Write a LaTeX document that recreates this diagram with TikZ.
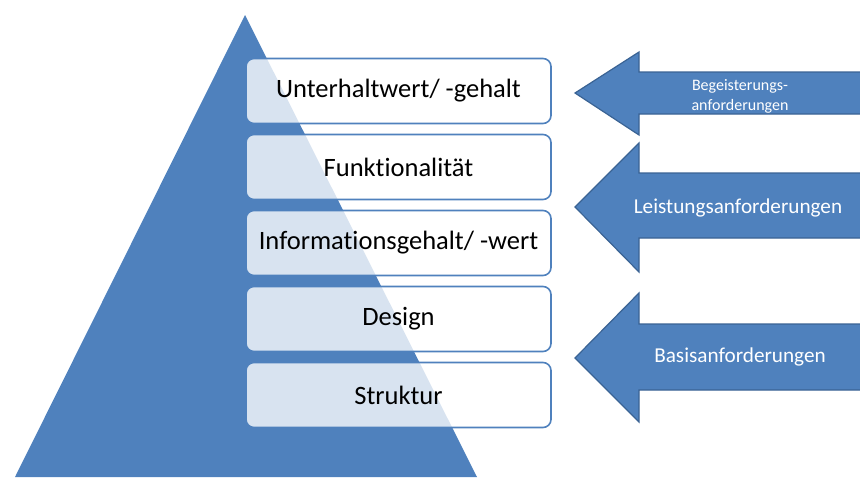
\documentclass[tikz,border=0pt]{standalone}
\usepackage{fontspec}
\setmainfont{Carlito}[Ligatures={NoCommon}]
\definecolor{pyrblue}{HTML}{4F81BD}
\definecolor{arrowedge}{HTML}{3A6394}
\begin{document}
\begin{tikzpicture}[x=1pt,y=-1pt,
  levelbox/.style={draw=pyrblue, line width=1.6pt, rounded corners=8pt,
    fill=white, fill opacity=0.78, text opacity=1,
    minimum width=305pt, minimum height=65pt, inner sep=0pt,
    font=\fontsize{26.5}{30}\selectfont, text=black},
  blockarrow/.style={fill=pyrblue, draw=arrowedge, line width=1.2pt, line join=miter},
  arrowtext/.style={text=white, align=center, inner sep=0pt}
]
\useasboundingbox (0,0) rectangle (860,477);
% pyramid
\fill[pyrblue] (245,15) -- (477,477) -- (15,477) -- cycle;
% levels
\node[levelbox] (l1) at (398.5,91) {Unterhaltwert/ -gehalt};
\node[levelbox] (l2) at (398.5,167) {Funktionalität};
\node[levelbox] (l3) at (398.5,243) {Informationsgehalt/ -wert};
\node[levelbox] (l4) at (398.5,319) {Design};
\node[levelbox] (l5) at (398.5,395) {Struktur};
% arrows
\draw[blockarrow] (575,93) -- (639,52) -- (639,72) -- (862,72) -- (862,114) -- (639,114) -- (639,135) -- cycle;
\draw[blockarrow] (575,207) -- (639,143) -- (639,173) -- (862,173) -- (862,238) -- (639,238) -- (639,272) -- cycle;
\draw[blockarrow] (575,358) -- (639,293) -- (639,324) -- (862,324) -- (862,390) -- (639,390) -- (639,422) -- cycle;
\node[arrowtext, font=\fontsize{16}{20}\selectfont] (a1) at (740,96) {Begeisterungs-\\anforderungen};
\node[arrowtext, font=\fontsize{21.2}{25}\selectfont] (a2) at (738,208) {Leistungsanforderungen};
\node[arrowtext, font=\fontsize{21.2}{25}\selectfont] (a3) at (740,357) {Basisanforderungen};
\end{tikzpicture}
\end{document}
